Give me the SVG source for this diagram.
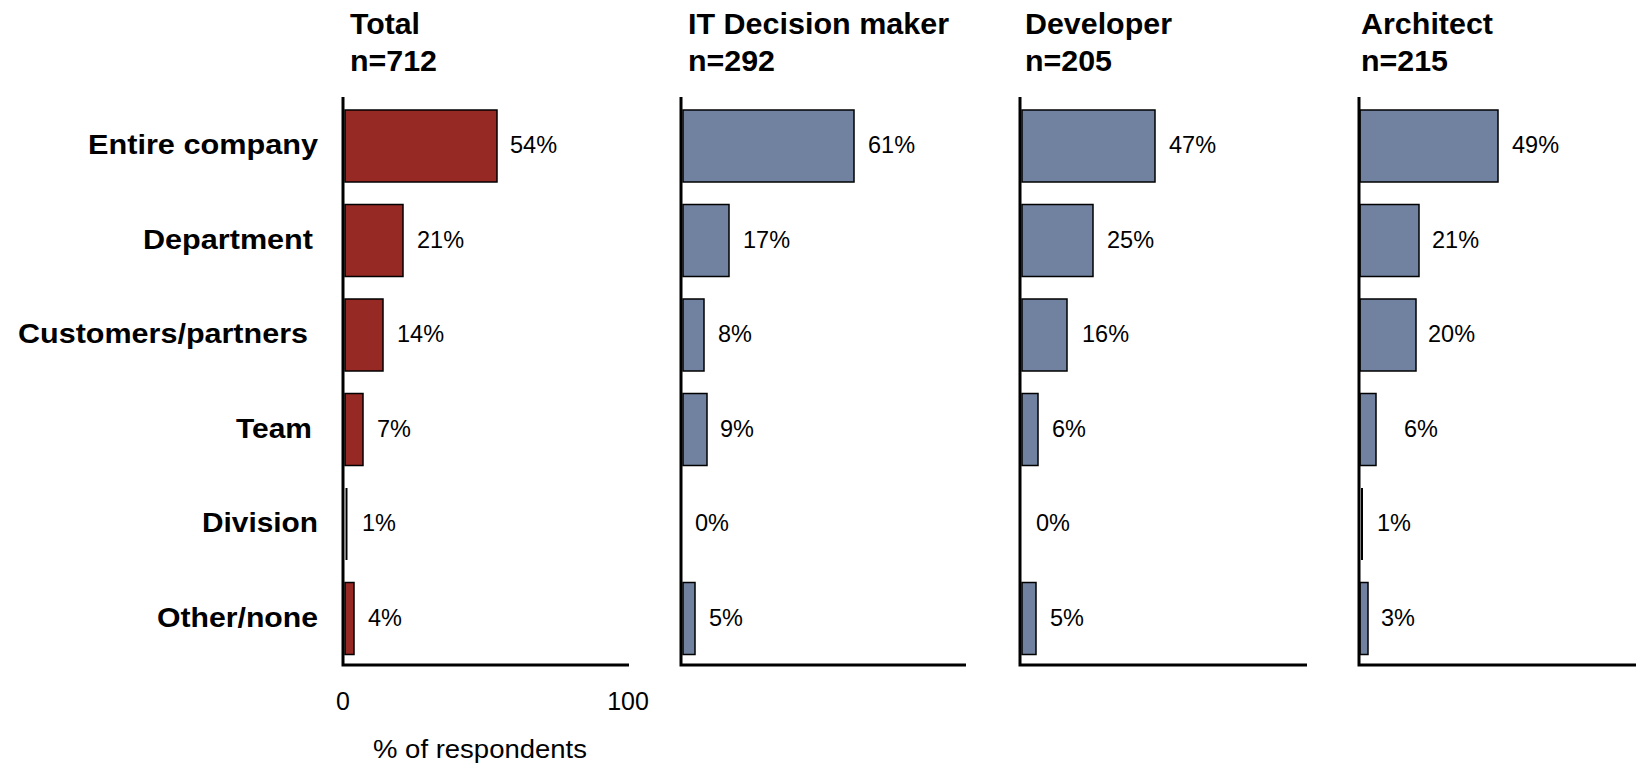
<svg xmlns="http://www.w3.org/2000/svg" width="1636" height="764" viewBox="0 0 1636 764">
<style>
.bg{fill:#ffffff}
.ttl{font-family:"Liberation Sans",Arial,sans-serif;font-weight:bold;font-size:29px;fill:#000}
.cat{font-family:"Liberation Sans",Arial,sans-serif;font-weight:bold;font-size:28px;fill:#000;text-anchor:end}
.pct{font-family:"Liberation Sans",Arial,sans-serif;font-size:23.5px;fill:#000}
.ax{font-family:"Liberation Sans",Arial,sans-serif;font-size:25px;fill:#000}
.axis{stroke:#000;stroke-width:3;fill:none}
.red{fill:#962924;stroke:#000;stroke-width:1.5}
.blue{fill:#7082A0;stroke:#000;stroke-width:1.5}
.thin{stroke:#000;stroke-width:2}
</style>
<rect class="bg" x="0" y="0" width="1636" height="764"/>

<g id="categories">
<text class="cat" x="318" y="154" textLength="230" lengthAdjust="spacingAndGlyphs">Entire company</text>
<text class="cat" x="313" y="248.5" textLength="170" lengthAdjust="spacingAndGlyphs">Department</text>
<text class="cat" x="308" y="343" textLength="290" lengthAdjust="spacingAndGlyphs">Customers/partners</text>
<text class="cat" x="312" y="437.5" textLength="76" lengthAdjust="spacingAndGlyphs">Team</text>
<text class="cat" x="318" y="532" textLength="116" lengthAdjust="spacingAndGlyphs">Division</text>
<text class="cat" x="318" y="626.5" textLength="161" lengthAdjust="spacingAndGlyphs">Other/none</text>
</g>

<g id="panel-total">
<text class="ttl" x="350" y="34" textLength="70" lengthAdjust="spacingAndGlyphs">Total</text>
<text class="ttl" x="350" y="71" textLength="87" lengthAdjust="spacingAndGlyphs">n=712</text>
<rect class="red" x="345" y="110" width="152" height="72"/>
<rect class="red" x="345" y="204.5" width="58" height="72"/>
<rect class="red" x="345" y="299" width="38" height="72"/>
<rect class="red" x="345" y="393.5" width="18" height="72"/>
<line class="thin" x1="346.5" y1="488" x2="346.5" y2="560"/>
<rect class="red" x="345" y="582.5" width="9" height="72"/>
<text class="pct" x="510" y="153">54%</text>
<text class="pct" x="417" y="247.5">21%</text>
<text class="pct" x="397" y="342">14%</text>
<text class="pct" x="377" y="436.5">7%</text>
<text class="pct" x="362" y="531">1%</text>
<text class="pct" x="368" y="625.5">4%</text>
<path class="axis" d="M343 97 V665 H629"/>
<text class="ax" x="343" y="710" text-anchor="middle">0</text>
<text class="ax" x="628" y="710" text-anchor="middle">100</text>
<text class="ax" x="373" y="758" textLength="214" lengthAdjust="spacingAndGlyphs">% of respondents</text>
</g>

<g id="panel-itdm">
<text class="ttl" x="688" y="34" textLength="261" lengthAdjust="spacingAndGlyphs">IT Decision maker</text>
<text class="ttl" x="688" y="71" textLength="87" lengthAdjust="spacingAndGlyphs">n=292</text>
<rect class="blue" x="683" y="110" width="171" height="72"/>
<rect class="blue" x="683" y="204.5" width="46" height="72"/>
<rect class="blue" x="683" y="299" width="21" height="72"/>
<rect class="blue" x="683" y="393.5" width="24" height="72"/>
<rect class="blue" x="683" y="582.5" width="12" height="72"/>
<text class="pct" x="868" y="153">61%</text>
<text class="pct" x="743" y="247.5">17%</text>
<text class="pct" x="718" y="342">8%</text>
<text class="pct" x="720" y="436.5">9%</text>
<text class="pct" x="695" y="531">0%</text>
<text class="pct" x="709" y="625.5">5%</text>
<path class="axis" d="M681 97 V665 H966"/>
</g>

<g id="panel-dev">
<text class="ttl" x="1025" y="34" textLength="147" lengthAdjust="spacingAndGlyphs">Developer</text>
<text class="ttl" x="1025" y="71" textLength="87" lengthAdjust="spacingAndGlyphs">n=205</text>
<rect class="blue" x="1022" y="110" width="133" height="72"/>
<rect class="blue" x="1022" y="204.5" width="71" height="72"/>
<rect class="blue" x="1022" y="299" width="45" height="72"/>
<rect class="blue" x="1022" y="393.5" width="16" height="72"/>
<rect class="blue" x="1022" y="582.5" width="14" height="72"/>
<text class="pct" x="1169" y="153">47%</text>
<text class="pct" x="1107" y="247.5">25%</text>
<text class="pct" x="1082" y="342">16%</text>
<text class="pct" x="1052" y="436.5">6%</text>
<text class="pct" x="1036" y="531">0%</text>
<text class="pct" x="1050" y="625.5">5%</text>
<path class="axis" d="M1020 97 V665 H1307"/>
</g>

<g id="panel-arch">
<text class="ttl" x="1361" y="34" textLength="132" lengthAdjust="spacingAndGlyphs">Architect</text>
<text class="ttl" x="1361" y="71" textLength="87" lengthAdjust="spacingAndGlyphs">n=215</text>
<rect class="blue" x="1360" y="110" width="138" height="72"/>
<rect class="blue" x="1360" y="204.5" width="59" height="72"/>
<rect class="blue" x="1360" y="299" width="56" height="72"/>
<rect class="blue" x="1360" y="393.5" width="16" height="72"/>
<line class="thin" x1="1362" y1="488" x2="1362" y2="560"/>
<rect class="blue" x="1360" y="582.5" width="8" height="72"/>
<text class="pct" x="1512" y="153">49%</text>
<text class="pct" x="1432" y="247.5">21%</text>
<text class="pct" x="1428" y="342">20%</text>
<text class="pct" x="1404" y="436.5">6%</text>
<text class="pct" x="1377" y="531">1%</text>
<text class="pct" x="1381" y="625.5">3%</text>
<path class="axis" d="M1359 97 V665 H1636"/>
</g>

<g id="connectors"></g>
</svg>
